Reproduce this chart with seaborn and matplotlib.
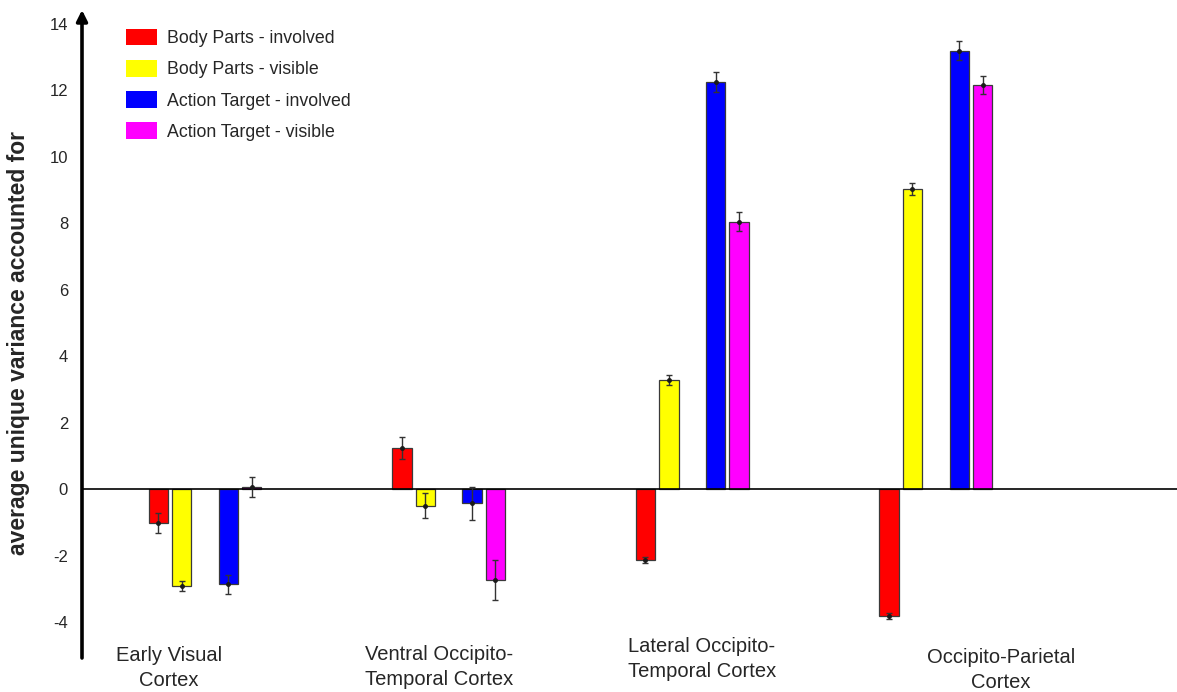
import matplotlib
matplotlib.use("Agg")
import matplotlib.pyplot as plt
from matplotlib.patches import Patch
import seaborn as sns
import pandas as pd
import numpy as np

# ---------------- data ----------------
regions = ["Early Visual\nCortex", "Ventral Occipito-\nTemporal Cortex",
           "Lateral Occipito-\nTemporal Cortex", "Occipito-Parietal\nCortex"]
series = ["Body Parts - involved", "Body Parts - visible",
          "Action Target - involved", "Action Target - visible"]
body_involved = [-1.03, 1.23, -2.13, -3.82]
body_visible = [-2.90, -0.50, 3.28, 9.03]
target_involved = [-2.86, -0.43, 12.24, 13.19]
target_visible = [0.05, -2.73, 8.04, 12.16]
err_body_involved = [0.30, 0.33, 0.10, 0.10]
err_body_visible = [0.15, 0.38, 0.15, 0.17]
err_target_involved = [0.29, 0.50, 0.31, 0.29]
err_target_visible = [0.30, 0.60, 0.29, 0.27]
yticks = [-4, -2, 0, 2, 4, 6, 8, 10, 12, 14]
colors = ["#FF0000", "#FFFF00", "#0000FF", "#FF00FF"]

values = [body_involved, body_visible, target_involved, target_visible]
errors = [err_body_involved, err_body_visible, err_target_involved, err_target_visible]

rows = []
for s, vals in zip(series, values):
    for r, v in zip(regions, vals):
        rows.append({"region": r, "series": s, "value": v})
df = pd.DataFrame(rows)

# ---------------- style ----------------
sns.set_style("white")
plt.rcParams["font.family"] = ["Liberation Sans", "DejaVu Sans"]

W, H = 1177, 692
fig = plt.figure(figsize=(W / 100, H / 100), dpi=100)
ax = fig.add_axes([82 / W, 1 - 658 / H, 1 - 82 / W, (658 - 10) / H])

spacer = " "
hue_order = series[:2] + [spacer] + series[2:]
palette = dict(zip(series, colors))
palette[spacer] = "#FFFFFF"

sns.barplot(data=df, x="region", y="value", hue="series", order=regions,
            hue_order=hue_order, palette=palette, saturation=1, errorbar=None,
            width=0.48, gap=0.17, edgecolor="#3a3a3a", linewidth=0.9,
            legend=False, ax=ax, zorder=2)

# error bars at the bar tops, positions taken from the drawn bars
conts = [c for c in ax.containers if len(c.patches) == len(regions)]
for cont, err in zip(conts, errors):
    pats = sorted(cont.patches, key=lambda p: p.get_x())
    xs = [p.get_x() + p.get_width() / 2 for p in pats]
    ys = [p.get_y() + p.get_height() for p in pats]
    ax.errorbar(xs, ys, yerr=err, fmt="o", ms=2.5, color="#1a1a1a",
                ecolor="#333333", elinewidth=1.0, capsize=2.5, capthick=1.0,
                zorder=4)

ax.axhline(0, color="black", lw=1.2, zorder=3)

ax.set_ylim(-5.08, 14.41)
ax.set_xlim(-0.505, 3.99)
ax.set_yticks(yticks)
ax.set_yticklabels([str(t) for t in yticks], fontsize=12)
ax.tick_params(axis="y", length=0, pad=10)
ax.set_xticks([])
ax.set_xlabel("")
ax.set_ylabel("")
for sp in ax.spines.values():
    sp.set_visible(False)

# y axis arrow
ax.annotate("", xy=(0, 1.0), xytext=(0, 0), xycoords="axes fraction",
            textcoords="axes fraction",
            arrowprops=dict(arrowstyle="-|>", lw=2.6, color="black",
                            mutation_scale=16, shrinkA=0, shrinkB=0),
            annotation_clip=False)

fig.text(19 / W, 1 - 343 / H, "average unique variance accounted for",
         rotation=90, ha="center", va="center", fontsize=16.5,
         fontweight="bold")

# region labels
label_pos = [(169, 668), (439, 667), (702, 659), (1001, 670)]
for lab, (px, py) in zip(regions, label_pos):
    fig.text(px / W, 1 - py / H, lab, ha="center", va="center",
             fontsize=14.5, linespacing=1.4)

handles = [Patch(facecolor=c, edgecolor="none") for c in colors]
ax.legend(handles, series, loc="upper left",
          bbox_to_anchor=(44 / (W - 82), 1 - 19 / 648),
          frameon=False, fontsize=12.8, handlelength=1.75, handleheight=1.05,
          handletextpad=0.55, labelspacing=0.72, borderaxespad=0, borderpad=0)

fig.savefig("out.png", dpi=100)
